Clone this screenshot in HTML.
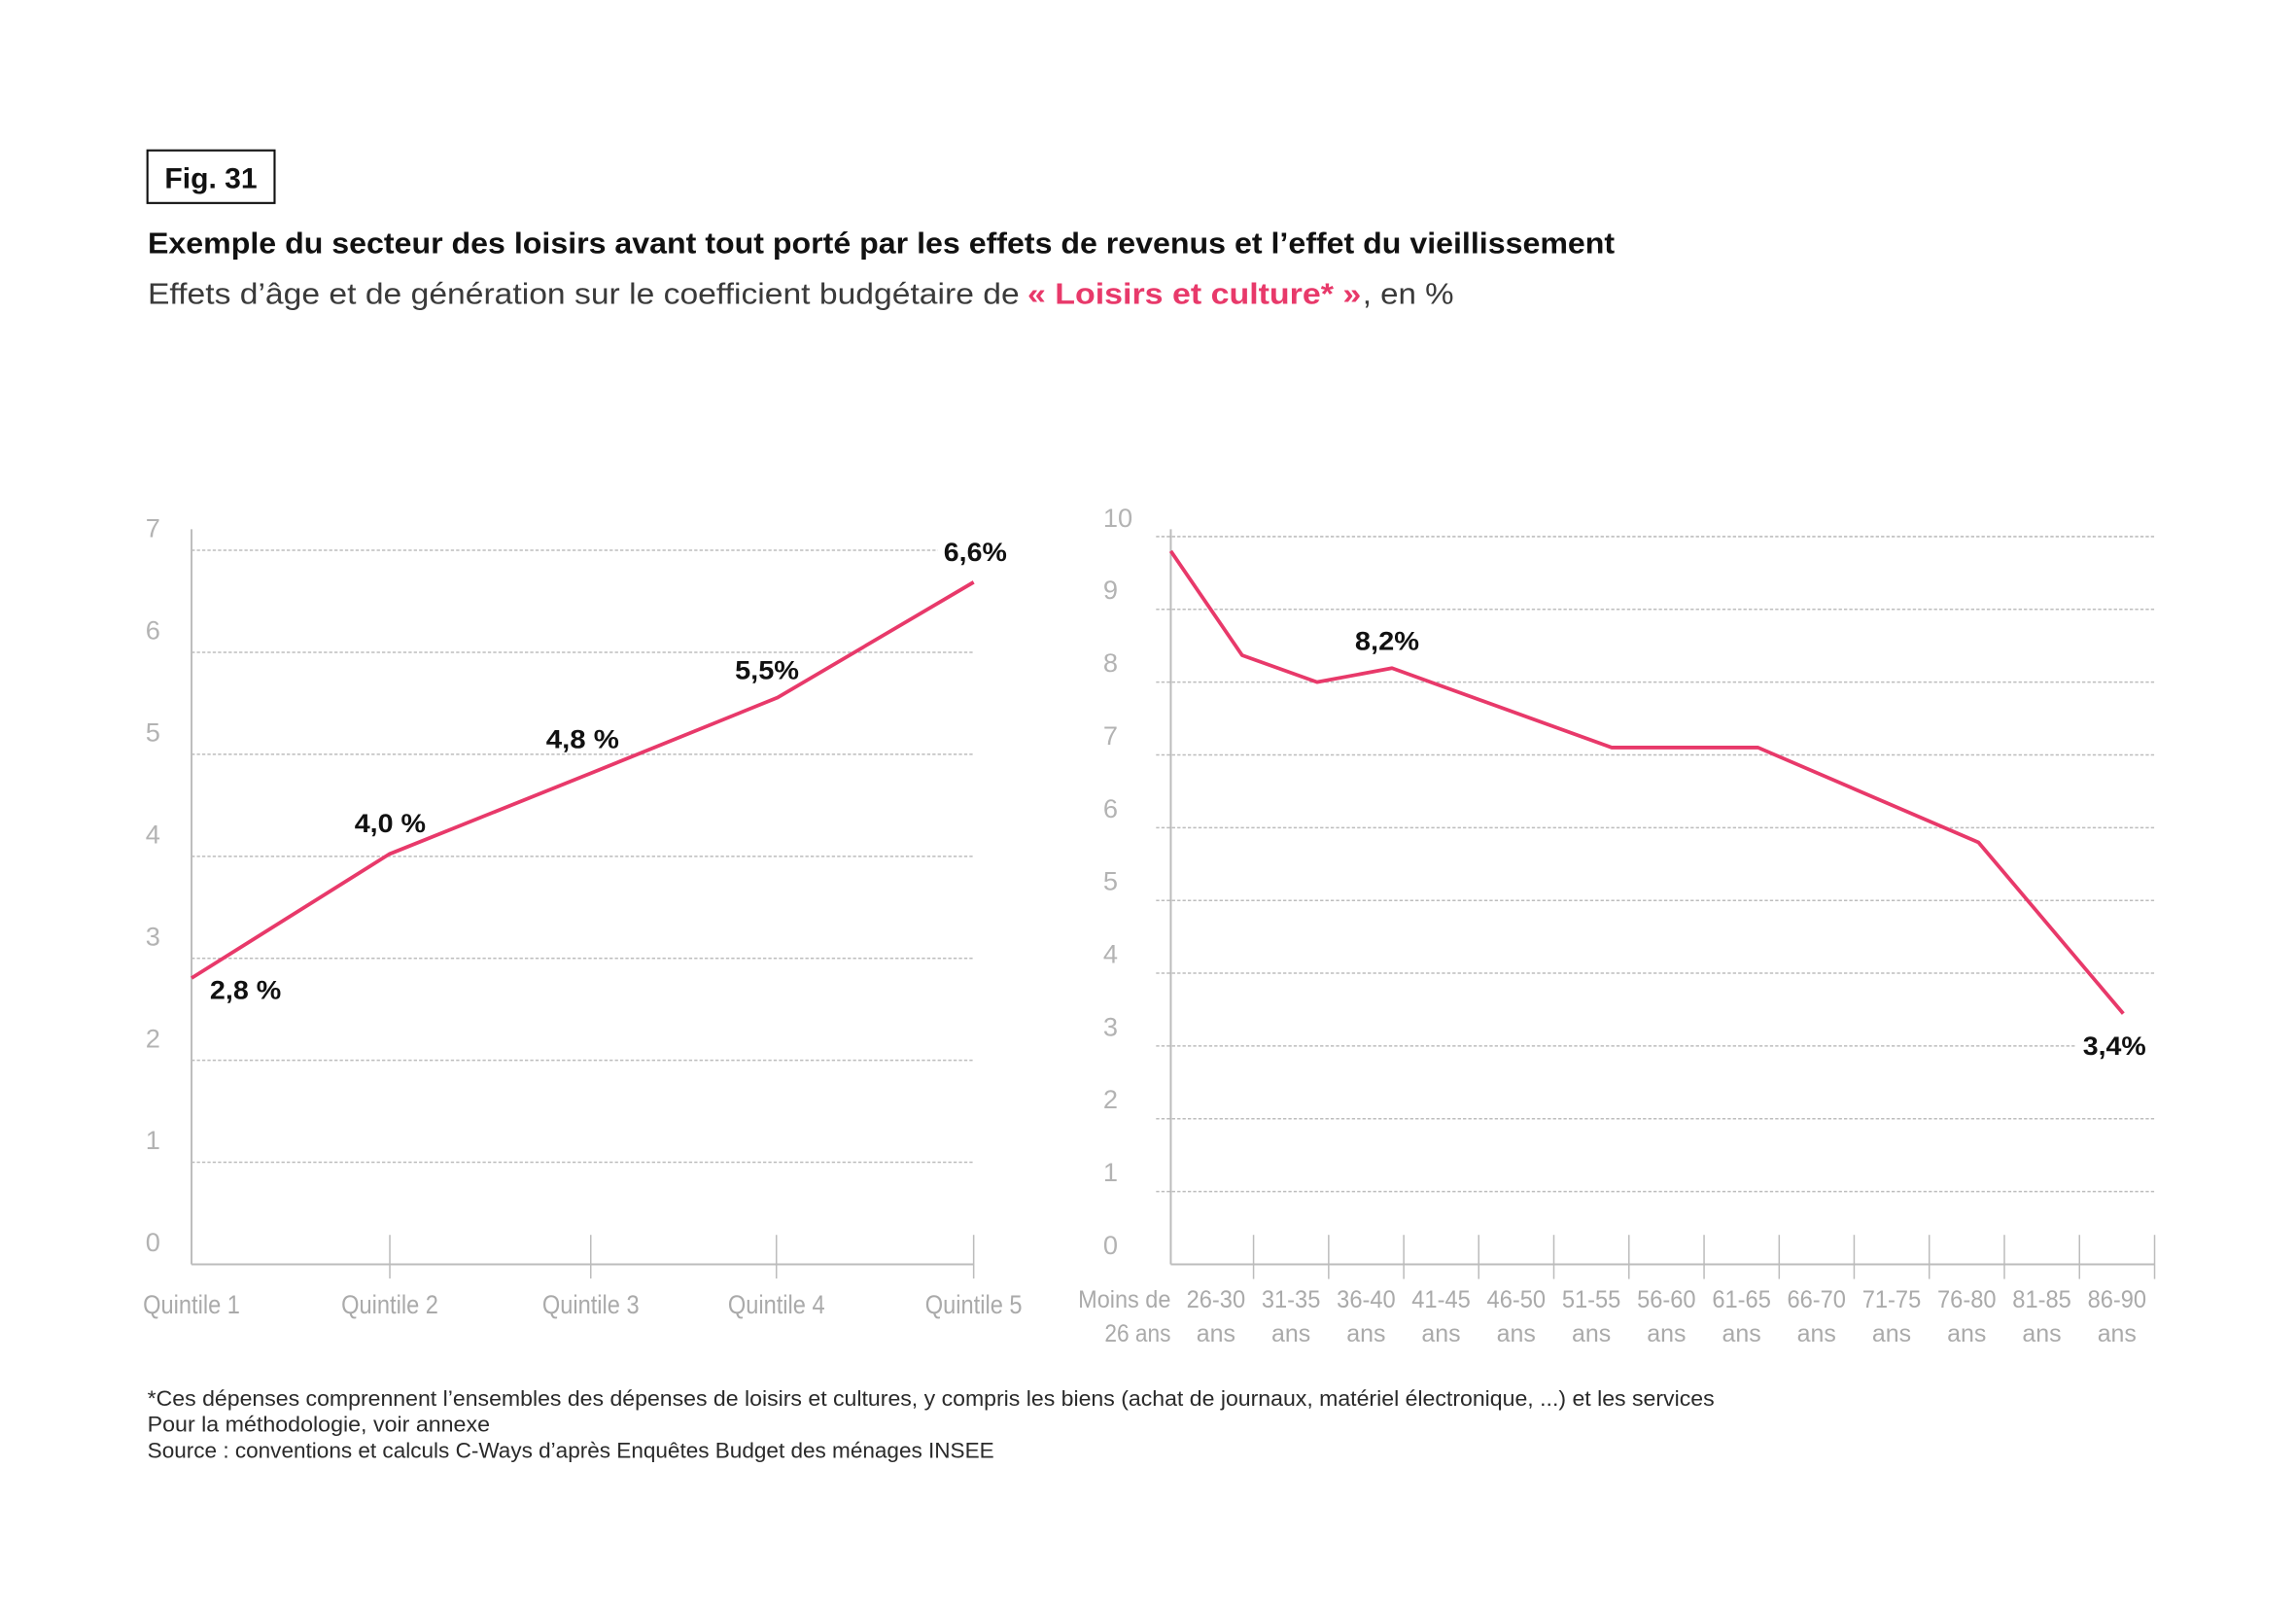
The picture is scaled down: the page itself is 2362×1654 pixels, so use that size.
<!DOCTYPE html>
<html>
<head>
<meta charset="utf-8">
<style>
  html,body{margin:0;padding:0;background:#fff;}
  svg{display:block;}
  text{font-family:"Liberation Sans",sans-serif;}
</style>
</head>
<body>
<svg width="2362" height="1654" viewBox="0 0 1562 1093.8" xmlns="http://www.w3.org/2000/svg">
  <rect x="0" y="0" width="1562" height="1093.8" fill="#fff"/>

  <!-- Header -->
  <rect x="100.3" y="102.3" width="86.5" height="35.8" fill="none" stroke="#111" stroke-width="1.4"/>
  <text x="112" y="128" font-size="19.5" font-weight="bold" fill="#111" textLength="63" lengthAdjust="spacingAndGlyphs">Fig. 31</text>
  <text x="100.5" y="172.3" font-size="20.5" font-weight="bold" fill="#111" textLength="998" lengthAdjust="spacingAndGlyphs">Exemple du secteur des loisirs avant tout porté par les effets de revenus et l’effet du vieillissement</text>
  <text x="100.5" y="206.5" font-size="20.5" fill="#3a3a3a" textLength="593" lengthAdjust="spacingAndGlyphs">Effets d’âge et de génération sur le coefficient budgétaire de</text>
  <text x="699" y="206.5" font-size="20.5" font-weight="bold" fill="#e8396a" textLength="227" lengthAdjust="spacingAndGlyphs">« Loisirs et culture* »</text>
  <text x="927" y="206.5" font-size="20.5" fill="#3a3a3a" textLength="62" lengthAdjust="spacingAndGlyphs">, en %</text>

  <!-- LEFT CHART -->
  <g stroke="#bdbdbd" stroke-width="1" stroke-dasharray="2.2,1.4" fill="none">
    <line x1="130.3" y1="374.3" x2="662.4" y2="374.3"/>
    <line x1="130.3" y1="443.7" x2="662.4" y2="443.7"/>
    <line x1="130.3" y1="513.1" x2="662.4" y2="513.1"/>
    <line x1="130.3" y1="582.5" x2="662.4" y2="582.5"/>
    <line x1="130.3" y1="651.9" x2="662.4" y2="651.9"/>
    <line x1="130.3" y1="721.2" x2="662.4" y2="721.2"/>
    <line x1="130.3" y1="790.6" x2="662.4" y2="790.6"/>
  </g>
  <g stroke="#bcbcbc" stroke-width="1.3" fill="none">
    <line x1="130.3" y1="360" x2="130.3" y2="860"/>
    <line x1="130.3" y1="860" x2="662.4" y2="860"/>
    <line x1="265.2" y1="840" x2="265.2" y2="869.7" stroke-width="1"/>
    <line x1="401.9" y1="840" x2="401.9" y2="869.7" stroke-width="1"/>
    <line x1="528.2" y1="840" x2="528.2" y2="869.7" stroke-width="1"/>
    <line x1="662.4" y1="840" x2="662.4" y2="869.7" stroke-width="1"/>
  </g>
  <g font-size="18" fill="#b3b3b3">
    <text x="99" y="365.5">7</text>
    <text x="99" y="434.9">6</text>
    <text x="99" y="504.3">5</text>
    <text x="99" y="573.7">4</text>
    <text x="99" y="643.1">3</text>
    <text x="99" y="712.4">2</text>
    <text x="99" y="781.8">1</text>
    <text x="99" y="851.2">0</text>
  </g>
  <g font-size="18" fill="#aaaaaa" text-anchor="middle">
    <text x="130.3" y="893.5" textLength="66" lengthAdjust="spacingAndGlyphs">Quintile 1</text>
    <text x="265.2" y="893.5" textLength="66" lengthAdjust="spacingAndGlyphs">Quintile 2</text>
    <text x="401.9" y="893.5" textLength="66" lengthAdjust="spacingAndGlyphs">Quintile 3</text>
    <text x="528.2" y="893.5" textLength="66" lengthAdjust="spacingAndGlyphs">Quintile 4</text>
    <text x="662.4" y="893.5" textLength="66" lengthAdjust="spacingAndGlyphs">Quintile 5</text>
  </g>
  <polyline points="130.3,665.3 264.8,581 401.9,526 529,474.5 662.4,396" fill="none" stroke="#e8396a" stroke-width="2.5" stroke-linejoin="round"/>
  <rect x="638" y="364" width="52" height="22" fill="#fff"/>
  <g font-size="18" font-weight="bold" fill="#111">
    <text x="142.8" y="679.6" textLength="48.5" lengthAdjust="spacingAndGlyphs">2,8 %</text>
    <text x="241.2" y="566" textLength="48.5" lengthAdjust="spacingAndGlyphs">4,0 %</text>
    <text x="371.5" y="509" textLength="49.7" lengthAdjust="spacingAndGlyphs">4,8 %</text>
    <text x="500" y="462" textLength="43.6" lengthAdjust="spacingAndGlyphs">5,5%</text>
    <text x="642" y="381.5" textLength="43" lengthAdjust="spacingAndGlyphs">6,6%</text>
  </g>

  <!-- RIGHT CHART -->
  <g stroke="#bdbdbd" stroke-width="1" stroke-dasharray="2.2,1.4" fill="none">
    <line x1="786.5" y1="365" x2="1466" y2="365"/>
    <line x1="786.5" y1="414.5" x2="1466" y2="414.5"/>
    <line x1="786.5" y1="464" x2="1466" y2="464"/>
    <line x1="786.5" y1="513.5" x2="1466" y2="513.5"/>
    <line x1="786.5" y1="563" x2="1466" y2="563"/>
    <line x1="786.5" y1="612.5" x2="1466" y2="612.5"/>
    <line x1="786.5" y1="662" x2="1466" y2="662"/>
    <line x1="786.5" y1="711.5" x2="1466" y2="711.5"/>
    <line x1="786.5" y1="761" x2="1466" y2="761"/>
    <line x1="786.5" y1="810.5" x2="1466" y2="810.5"/>
  </g>
  <g stroke="#bcbcbc" stroke-width="1.3" fill="none">
    <line x1="796.5" y1="360" x2="796.5" y2="860"/>
    <line x1="796.5" y1="860" x2="1465.8" y2="860"/>
  </g>
  <g stroke="#bcbcbc" stroke-width="1" fill="none">
    <line x1="852.8" y1="840" x2="852.8" y2="870"/>
    <line x1="903.9" y1="840" x2="903.9" y2="870"/>
    <line x1="955" y1="840" x2="955" y2="870"/>
    <line x1="1006" y1="840" x2="1006" y2="870"/>
    <line x1="1057.1" y1="840" x2="1057.1" y2="870"/>
    <line x1="1108.2" y1="840" x2="1108.2" y2="870"/>
    <line x1="1159.3" y1="840" x2="1159.3" y2="870"/>
    <line x1="1210.4" y1="840" x2="1210.4" y2="870"/>
    <line x1="1261.4" y1="840" x2="1261.4" y2="870"/>
    <line x1="1312.5" y1="840" x2="1312.5" y2="870"/>
    <line x1="1363.6" y1="840" x2="1363.6" y2="870"/>
    <line x1="1414.7" y1="840" x2="1414.7" y2="870"/>
    <line x1="1465.8" y1="840" x2="1465.8" y2="870"/>
  </g>
  <g font-size="18" fill="#b3b3b3">
    <text x="750.5" y="358.3">10</text>
    <text x="750.5" y="407.5">9</text>
    <text x="750.5" y="457">8</text>
    <text x="750.5" y="506.5">7</text>
    <text x="750.5" y="556">6</text>
    <text x="750.5" y="605.5">5</text>
    <text x="750.5" y="655">4</text>
    <text x="750.5" y="704.5">3</text>
    <text x="750.5" y="754">2</text>
    <text x="750.5" y="803.5">1</text>
    <text x="750.5" y="853">0</text>
  </g>
  <g font-size="16.5" fill="#aaaaaa" text-anchor="middle">
    <text x="796.5" y="889.5" text-anchor="end" textLength="63" lengthAdjust="spacingAndGlyphs">Moins de</text>
    <text x="796.5" y="912.6" text-anchor="end" textLength="45" lengthAdjust="spacingAndGlyphs">26 ans</text>
    <text x="827.2" y="889.5" textLength="40" lengthAdjust="spacingAndGlyphs">26-30</text>
    <text x="878.3" y="889.5" textLength="40" lengthAdjust="spacingAndGlyphs">31-35</text>
    <text x="929.4" y="889.5" textLength="40" lengthAdjust="spacingAndGlyphs">36-40</text>
    <text x="980.4" y="889.5" textLength="40" lengthAdjust="spacingAndGlyphs">41-45</text>
    <text x="1031.5" y="889.5" textLength="40" lengthAdjust="spacingAndGlyphs">46-50</text>
    <text x="1082.6" y="889.5" textLength="40" lengthAdjust="spacingAndGlyphs">51-55</text>
    <text x="1133.7" y="889.5" textLength="40" lengthAdjust="spacingAndGlyphs">56-60</text>
    <text x="1184.8" y="889.5" textLength="40" lengthAdjust="spacingAndGlyphs">61-65</text>
    <text x="1235.8" y="889.5" textLength="40" lengthAdjust="spacingAndGlyphs">66-70</text>
    <text x="1286.9" y="889.5" textLength="40" lengthAdjust="spacingAndGlyphs">71-75</text>
    <text x="1338" y="889.5" textLength="40" lengthAdjust="spacingAndGlyphs">76-80</text>
    <text x="1389.1" y="889.5" textLength="40" lengthAdjust="spacingAndGlyphs">81-85</text>
    <text x="1440.2" y="889.5" textLength="40" lengthAdjust="spacingAndGlyphs">86-90</text>
    <text x="827.2" y="912.6">ans</text>
    <text x="878.3" y="912.6">ans</text>
    <text x="929.4" y="912.6">ans</text>
    <text x="980.4" y="912.6">ans</text>
    <text x="1031.5" y="912.6">ans</text>
    <text x="1082.6" y="912.6">ans</text>
    <text x="1133.7" y="912.6">ans</text>
    <text x="1184.8" y="912.6">ans</text>
    <text x="1235.8" y="912.6">ans</text>
    <text x="1286.9" y="912.6">ans</text>
    <text x="1338" y="912.6">ans</text>
    <text x="1389.1" y="912.6">ans</text>
    <text x="1440.2" y="912.6">ans</text>
  </g>
  <polyline points="796.5,374.8 845,445.7 896,464 947,454.5 1096.5,508.5 1196,508.5 1346,573 1444.5,689.5" fill="none" stroke="#e8396a" stroke-width="2.5" stroke-linejoin="round"/>
  <rect x="1412" y="699" width="56" height="23" fill="#fff"/>
  <g font-size="18" font-weight="bold" fill="#111">
    <text x="921.8" y="442" textLength="43.7" lengthAdjust="spacingAndGlyphs">8,2%</text>
    <text x="1417" y="717.5" textLength="43" lengthAdjust="spacingAndGlyphs">3,4%</text>
  </g>

  <!-- Footer -->
  <g font-size="14.5" fill="#2a2a2a">
    <text x="100.3" y="956.3" textLength="1066" lengthAdjust="spacingAndGlyphs">*Ces dépenses comprennent l’ensembles des dépenses de loisirs et cultures, y compris les biens (achat de journaux, matériel électronique, ...) et les services</text>
    <text x="100.3" y="973.9" textLength="233" lengthAdjust="spacingAndGlyphs">Pour la méthodologie, voir annexe</text>
    <text x="100.3" y="991.5" textLength="576" lengthAdjust="spacingAndGlyphs">Source : conventions et calculs C-Ways d’après Enquêtes Budget des ménages INSEE</text>
  </g>
</svg>
</body>
</html>
